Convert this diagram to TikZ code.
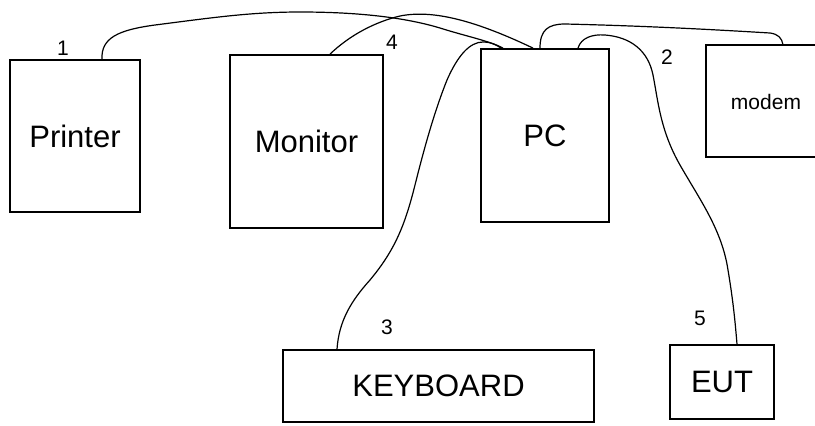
\documentclass[tikz,border=0pt]{standalone}
\usepackage{fontspec}
\setmainfont{Liberation Sans}
\usetikzlibrary{calc}
\begin{document}
\begin{tikzpicture}[x=1pt,y=-1pt,
  box/.style={draw, line width=1.8pt, inner sep=0pt, font=\fontsize{31}{36}\selectfont},
  cable/.style={line width=1.2pt},
  num/.style={font=\fontsize{21}{24}\selectfont, inner sep=0pt}]
\useasboundingbox (0,0) rectangle (815,426);
% boxes
\node[box, minimum width=130pt, minimum height=152pt] (printer) at (75,136) {Printer};
\node[box, minimum width=153pt, minimum height=173pt] (monitor) at (306.5,141.5) {Monitor};
\node[box, minimum width=128pt, minimum height=173pt] (pc) at (545,135.5) {PC};
\node[minimum width=109pt, minimum height=112pt, inner sep=0pt] (modem) at (760.5,101) {};
\draw[line width=1.8pt] (modem.north east) -- (modem.north west) -- (modem.south west) -- (modem.south east);
\node[font=\fontsize{21}{25}\selectfont, inner sep=0pt] (modemtext) at (766,102) {modem};
\node[box, minimum width=311pt, minimum height=72pt] (keyboard) at (438.5,386) {KEYBOARD};
\node[box, minimum width=104pt, minimum height=74pt] (eut) at (722,382) {EUT};
% cables
\draw[cable] ([xshift=27pt]printer.north) .. controls (101,38) and (118,30) .. (155,25)
  .. controls (210,18) and (250,12) .. (300,12)
  .. controls (350,12) and (400,16) .. (440,28)
  .. controls (465,36) and (490,41) .. ([xshift=-42pt]pc.north);
\draw[cable] ([xshift=23.5pt]monitor.north) .. controls (350,35) and (375,22) .. (400,16)
  .. controls (430,10) and (470,18) .. ([xshift=-12pt]pc.north);
\draw[cable] ([xshift=-101.5pt]keyboard.north) .. controls (339,320) and (352,300) .. (370,280)
  .. controls (395,250) and (405,225) .. (415,185)
  .. controls (425,145) and (435,110) .. (447,80)
  .. controls (458,55) and (470,42) .. (483,42)
  .. controls (492,42) and (498,46) .. ([xshift=-44pt]pc.north);
\draw[cable] ([xshift=-5pt]pc.north) .. controls (540,30) and (548,24) .. (565,24)
  .. controls (650,26) and (720,30) .. (770,33)
  .. controls (778,34) and (782,38) .. ([xshift=22.5pt]modem.north);
\draw[cable] ([xshift=33pt]pc.north) .. controls (581,38) and (592,34) .. (605,35)
  .. controls (630,37) and (648,50) .. (653,75)
  .. controls (658,100) and (660,130) .. (680,165)
  .. controls (700,200) and (722,230) .. (728,270)
  .. controls (733,300) and (735,320) .. ([xshift=15pt]eut.north);
% labels
\node[num] (n1) at (63,48) {1};
\node[num] (n4) at (392,42) {4};
\node[num] (n2) at (667,57) {2};
\node[num] (n3) at (387,327) {3};
\node[num] (n5) at (700,318) {5};
\end{tikzpicture}
\end{document}
